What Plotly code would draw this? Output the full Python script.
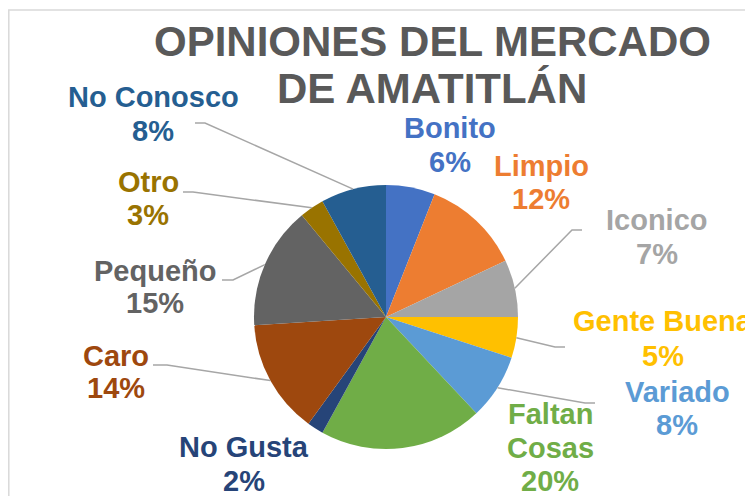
import math
import plotly.graph_objects as go

# ---- data ----
categories = ["Bonito", "Limpio", "Iconico", "Gente Buena", "Variado", "Faltan Cosas",
              "No Gusta", "Caro", "Pequeño", "Otro", "No Conosco"]
values = [6, 12, 7, 5, 8, 20, 2, 14, 15, 3, 8]
colors = ["#4472C4", "#ED7D31", "#A5A5A5", "#FFC000", "#5B9BD5", "#70AD47",
          "#264478", "#9E480E", "#636363", "#997300", "#255E91"]
title_lines = ["OPINIONES DEL MERCADO", "DE AMATITLÁN"]

# ---- layout helpers (window pixels; page body has an 8px margin) ----
OFF = 8
W, H = 753 - OFF, 496 - OFF
CX, CY, R = 386, 317, 132

def px(x):
    return (x - OFF) / W

def py(y):
    return 1 - (y - OFF) / H

# label placement: name -> (x center, [y centers of lines], name split)
label_pos = {
    "Bonito": (450, [128, 162], ["Bonito"]),
    "Limpio": (541, [166, 199], ["Limpio"]),
    "Iconico": (657, [220, 254], ["Iconico"]),
    "Gente Buena": (663, [321, 356], ["Gente Buena"]),
    "Variado": (677, [392, 425], ["Variado"]),
    "Faltan Cosas": (550, [414, 448, 481], ["Faltan", "Cosas"]),
    "No Gusta": (244, [447, 481], ["No Gusta"]),
    "Caro": (116, [356, 388], ["Caro"]),
    "Pequeño": (155, [271, 303], ["Pequeño"]),
    "Otro": (148, [182, 215], ["Otro"]),
    "No Conosco": (153, [97, 131], ["No Conosco"]),
}
# leader line: name -> (start x, knee x, y)
leaders = {
    "No Conosco": (195, 205, 123),
    "Otro": (183, 193, 192),
    "Pequeño": (222, 233, 280),
    "Caro": (153, 167, 365),
    "Iconico": (582, 572, 230),
    "Gente Buena": (565, 555, 347),
    "Variado": (595, 585, 403),
}

fig = go.Figure()
fig.add_trace(go.Pie(
    labels=categories, values=values, sort=False, direction="clockwise", rotation=0,
    marker=dict(colors=colors, line=dict(width=0)),
    textinfo="none", hoverinfo="label+percent", showlegend=False,
    domain=dict(x=[px(CX - R), px(CX + R)], y=[py(CY + R), py(CY - R)]),
))

font_family = "Liberation Sans, Arial, sans-serif"
annotations = []
shapes = []

# title
for txt, yc in zip(title_lines, [41.5, 88.5]):
    annotations.append(dict(
        x=px(432), y=py(yc), xref="paper", yref="paper", text=txt, showarrow=False,
        xanchor="center", yanchor="middle",
        font=dict(family=font_family, size=42, color="#595959", weight="bold")))

# labels + leader lines
total = sum(values)
cum = 0
for name, val, col in zip(categories, values, colors):
    mid = (cum + val / 2) / total
    cum += val
    xc, ys, lines = label_pos[name]
    lines = lines + [f"{round(100 * val / total)}%"]
    for t, yc in zip(lines, ys):
        annotations.append(dict(
            x=px(xc), y=py(yc), xref="paper", yref="paper", text=t, showarrow=False,
            xanchor="center", yanchor="middle",
            font=dict(family=font_family, size=29, color=col, weight="bold")))
    if name in leaders:
        x0, xk, yl = leaders[name]
        th = 2 * math.pi * mid
        ex, ey = CX + R * math.sin(th), CY - R * math.cos(th)
        shapes.append(dict(
            type="path", xref="paper", yref="paper",
            path=f"M {px(x0)} {py(yl)} L {px(xk)} {py(yl)} L {px(ex)} {py(ey)}",
            line=dict(color="#A6A6A6", width=1.5)))

# chart frame
shapes.append(dict(type="rect", xref="paper", yref="paper",
                   x0=px(8.8), x1=px(800), y0=py(540), y1=py(10),
                   line=dict(color="#D9D9D9", width=1.5), fillcolor="rgba(0,0,0,0)", layer="below"))

fig.update_layout(
    width=W, height=H, margin=dict(l=0, r=0, t=0, b=0),
    paper_bgcolor="white", plot_bgcolor="white",
    annotations=annotations, shapes=shapes,
)
fig.write_html("out.html")
